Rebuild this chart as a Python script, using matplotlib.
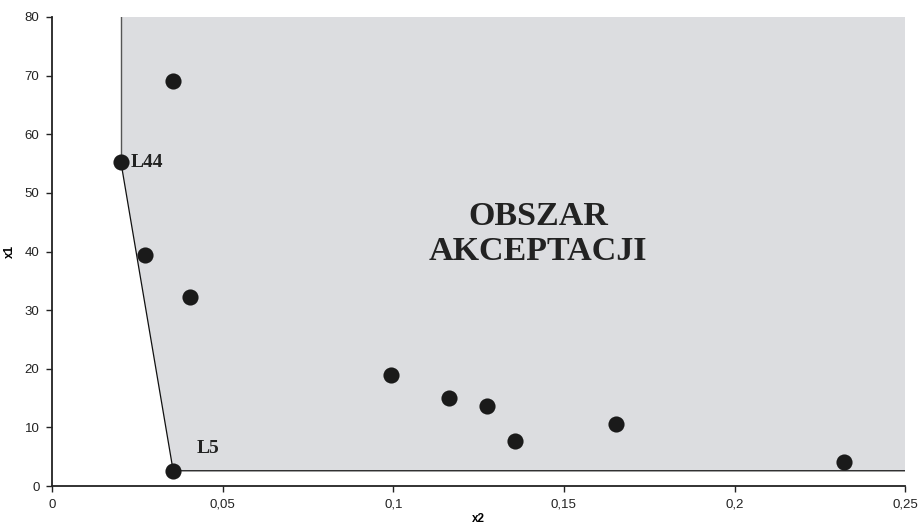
import matplotlib
matplotlib.use("Agg")
import matplotlib.pyplot as plt
from matplotlib.ticker import FuncFormatter

# punkty (x2, x1)
x2 = [0.0355, 0.0202, 0.0273, 0.0404, 0.0994, 0.1164, 0.1275, 0.1357, 0.1653, 0.2321, 0.0355]
x1 = [69.0, 55.2, 39.4, 32.2, 18.9, 15.0, 13.6, 7.7, 10.6, 4.1, 2.6]
names = ["", "L44", "", "", "", "", "", "", "", "", "L5"]

xmax, ymax = 0.25, 80
l44 = (x2[1], x1[1])
l5 = (x2[10], x1[10])

fig = plt.figure(figsize=(9.19, 5.31), dpi=100)
ax = fig.add_axes([0.0566, 0.0847, 0.9284, 0.8833])

# obszar akceptacji
bx = [l44[0], l44[0], l5[0], xmax, xmax]
by = [ymax, l44[1], l5[1], l5[1], ymax]
ax.fill(bx, by, color="#dcdde0", lw=0, zorder=1)
ax.plot([l44[0], l44[0]], [ymax, l44[1]], color="#555555", lw=1.0, zorder=2)
ax.plot([l44[0], l5[0], xmax], [l44[1], l5[1], l5[1]], color="#111111", lw=0.9, zorder=2)

ax.scatter(x2, x1, s=135, color="#1a1a1a", zorder=3, linewidths=0)

serif = ["Liberation Serif", "DejaVu Serif"]
ax.text(l44[0] + 0.0027, l44[1], names[1], fontsize=14, fontweight="bold",
        family=serif, va="center", ha="left", color="#222222", zorder=4)
ax.text(l5[0] + 0.0068, l5[1] + 2.3, names[10], fontsize=14, fontweight="bold",
        family=serif, va="bottom", ha="left", color="#222222", zorder=4)
ax.text(0.1425, 43, "OBSZAR\nAKCEPTACJI", fontsize=24.5, fontweight="bold",
        family=serif, ha="center", va="center", color="#222222",
        linespacing=1.15, zorder=4)

ax.set_xlim(0, xmax)
ax.set_ylim(0, ymax)
ax.set_xticks([0, 0.05, 0.1, 0.15, 0.2, 0.25])
ax.set_yticks(range(0, 81, 10))
ax.xaxis.set_major_formatter(FuncFormatter(lambda v, p: ("%g" % v).replace(".", ",")))

for s in ["top", "right"]:
    ax.spines[s].set_visible(False)
for s in ["left", "bottom"]:
    ax.spines[s].set_linewidth(1.3)
    ax.spines[s].set_color("#222222")
ax.tick_params(direction="out", length=4, width=1.0, labelsize=9.5,
               colors="#222222", pad=5)
for lab in ax.get_xticklabels() + ax.get_yticklabels():
    lab.set_family("Liberation Sans")

ax.set_xlabel("x2", fontsize=8.5, fontweight="bold", family="Liberation Sans", labelpad=2)
ax.set_ylabel("x1", fontsize=8.5, fontweight="bold", family="Liberation Sans", labelpad=6)

fig.savefig("out.png", dpi=100)
